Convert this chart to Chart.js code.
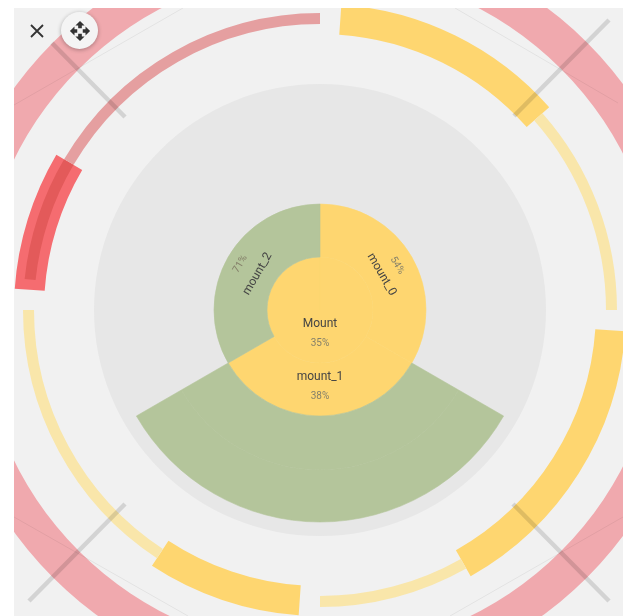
<!DOCTYPE html>
<html>
<head>
<meta charset="utf-8">
<title>Mount</title>
<script src="https://cdn.jsdelivr.net/npm/chart.js@4"></script>
<style>
  html, body { margin: 0; background: #fff; }
  #plot { position: absolute; left: 14px; top: 8px; width: 609px; height: 608px; overflow: hidden; background: #f1f1f1; }
  #plot canvas { position: absolute; left: -72px; top: -76px; filter: blur(0.4px); }
  #close { position: absolute; left: 29px; top: 23px; width: 16px; height: 16px; }
  #move { position: absolute; left: 61px; top: 12px; width: 37px; height: 37px; border-radius: 50%; background: #f4f4f4; box-shadow: 0 1px 4px rgba(0,0,0,.3); display: flex; align-items: center; justify-content: center; }
</style>
</head>
<body>
<div id="plot">
  <canvas id="baseChart" width="756" height="756"></canvas>
  <canvas id="topChart" width="756" height="756"></canvas>
  <canvas id="lineChart" width="756" height="756"></canvas>
</div>
<svg id="close" viewBox="0 0 16 16"><path d="M2 2L14 14M14 2L2 14" stroke="#333" stroke-width="1.8" fill="none"/></svg>
<div id="move">
  <svg width="22" height="22" viewBox="0 0 24 24"><path fill="#333" d="M10 9h4V6h3l-5-5-5 5h3v3zm-1 1H6V7l-5 5 5 5v-3h3v-4zm14 2l-5-5v3h-3v4h3v3l5-5zm-9 3h-4v3H7l5 5 5-5h-3v-3z"/></svg>
</div>

<script>
// arc sizes are in degrees, clockwise from 12 o'clock
const wideSizes = [4, 44.5, 45.5, 56.5, 33.5, 29.3, 60.7, 26.5, 59.5];
const wideColors = ['transparent', '#fed670', 'transparent', '#fed670', 'transparent', '#fed670', 'transparent', '#f56c70', 'transparent'];
const thinSizes = [48.5, 41.5, 60.5, 29.5, 33.3, 56.7, 6, 24.5, 59.5];
const thinColors = ['transparent', '#f9e6aa', 'transparent', '#f9e6aa', 'transparent', '#f9e6aa', 'transparent', '#e35a5a', '#e59fa0'];
const mountNames = ['mount_0', 'mount_1', 'mount_2'];
const mountPercents = ['54%', '38%', '71%'];
const mountSizes = [120, 120, 120];
const mountColors = ['#fed670', '#fed670', '#b4c59b'];
const childColors = ['transparent', '#b4c59b', 'transparent'];
const rootName = 'Mount';
const rootPercent = '35%';

// x/y value pairs, the scales run -378..378 around the centre
const crossLines = [
    [[-268, 267], [-195, 193]],
    [[289, 290], [194, 194]],
    [[-291, -291], [-195, -194]],
    [[289, -291], [193, -194]]
];
const faintLines = [
    [[135, 302], [298, 207]],
    [[-137, 302], [-306, 205]],
    [[-306, -207], [-132, -306]],
    [[303, -207], [130, -306]]
];

// edge > 0 strokes the arc in its own colour so neighbouring rings don't show a seam
function ring(weight, data, colors, edge) {
    return {
        weight: weight,
        data: data,
        backgroundColor: colors,
        borderColor: colors,
        borderWidth: edge || 0,
        hoverOffset: 0
    };
}

function segment(points, color, width) {
    return {
        showLine: true,
        data: points.map(p => ({ x: p[0], y: p[1] })),
        borderColor: color,
        borderWidth: width,
        pointRadius: 0
    };
}

const commonOptions = {
    responsive: false,
    animation: false,
    events: [],
    layout: { padding: 0 },
    plugins: { legend: { display: false }, tooltip: { enabled: false } }
};

new Chart(document.getElementById('baseChart'), {
    type: 'doughnut',
    data: {
        datasets: [
            ring(37, [360], ['#f0a9ae']),
            ring(35, [360], ['transparent']),
            ring(30, wideSizes, wideColors),
            ring(50, [360], ['transparent']),
            ring(226, [360], ['#e7e7e7'])
        ]
    },
    options: Object.assign({ cutout: 0 }, commonOptions)
});

const labelPlugin = {
    id: 'sunburstLabels',
    afterDatasetsDraw(chart) {
        const ctx = chart.ctx;
        const arcs = chart.getDatasetMeta(5).data;
        const centre = chart.getDatasetMeta(6).data[0];
        const offsets = [[71, 89, 60], [67, 86, 0], [72, 92, -60]];

        function text(str, x, y, angle, font, color) {
            ctx.save();
            ctx.translate(x, y);
            ctx.rotate(angle * Math.PI / 180);
            ctx.font = font;
            ctx.fillStyle = color;
            ctx.textAlign = 'center';
            ctx.textBaseline = 'middle';
            ctx.fillText(str, 0, 0);
            ctx.restore();
        }

        arcs.forEach((arc, i) => {
            const mid = (arc.startAngle + arc.endAngle) / 2;
            const [nameR, pctR, turn] = offsets[i];
            text(mountNames[i], arc.x + Math.cos(mid) * nameR, arc.y + Math.sin(mid) * nameR, turn, '12px Roboto', '#444');
            text(mountPercents[i], arc.x + Math.cos(mid) * pctR, arc.y + Math.sin(mid) * pctR, turn, '10px Roboto', '#85806a');
        });
        text(rootName, centre.x, centre.y + 14, 0, '12px Roboto', '#444');
        text(rootPercent, centre.x, centre.y + 33, 0, '10px Roboto', '#85806a');
    }
};

new Chart(document.getElementById('topChart'), {
    type: 'doughnut',
    data: {
        datasets: [
            ring(81, [360], ['transparent']),
            ring(11, thinSizes, thinColors),
            ring(74, [360], ['transparent']),
            ring(52, mountSizes, childColors, 0.6),
            ring(54, mountSizes, childColors, 0.6),
            ring(53, mountSizes, mountColors, 0.6),
            ring(53, [360], ['#fed670'], 0.6)
        ]
    },
    options: Object.assign({ cutout: 0 }, commonOptions),
    plugins: [labelPlugin]
});

new Chart(document.getElementById('lineChart'), {
    type: 'scatter',
    data: {
        datasets: [
            ...crossLines.map(l => segment(l, 'rgba(0,0,0,0.12)', 4.5)),
            ...faintLines.map(l => segment(l, 'rgba(0,0,0,0.06)', 1))
        ]
    },
    options: Object.assign({
        scales: {
            x: { type: 'linear', display: false, min: -378, max: 378 },
            y: { type: 'linear', display: false, min: -378, max: 378 }
        }
    }, commonOptions)
});
</script>
</body>
</html>
